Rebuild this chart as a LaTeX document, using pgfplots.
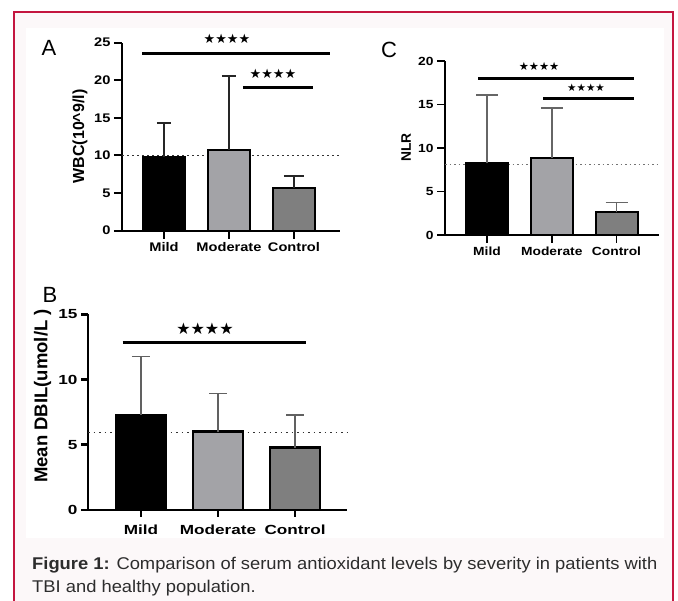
\documentclass[border=0pt]{standalone}
\usepackage{pgfplots}
\pgfplotsset{compat=1.18}
\usepackage{fontspec}
\setmainfont{Liberation Sans}
\newfontfamily\tfA[FakeStretch=1.17]{Liberation Sans}
\newfontfamily\tfB[FakeStretch=1.3]{Liberation Sans}
\newfontfamily\capfont[FakeStretch=1.08]{Liberation Sans}
\newfontfamily\starfont{DejaVu Sans}
\definecolor{border}{RGB}{196,22,64}
\definecolor{capbg}{RGB}{252,248,249}
\definecolor{modgray}{RGB}{163,163,167}
\definecolor{congray}{RGB}{127,127,127}
\definecolor{captext}{RGB}{45,45,45}
\pgfplotsset{
  gp/.style={
    scale only axis,
    axis x line=bottom, axis y line=left,
    axis line style={-},
    tick align=outside,
    ymin=0,
    xtick={0,1,2}, xticklabels={Mild,Moderate,Control},
    clip=false,
    /pgf/number format/assume math mode=true,
    major tick length=8pt,
    tick style={black},
    anchor=south west,
  },
  eb/.style n args={3}{error bars/.cd, y dir=plus, y explicit,
    error mark=|,
    error bar style={line width=#1, #3},
    error mark options={line width=#1, mark size=#2, #3}},
}
\begin{document}
\begin{tikzpicture}[x=1pt,y=1pt]
\useasboundingbox (0,0) rectangle (678,601);
\fill[white] (0,0) rectangle (678,601);
\fill[capbg] (14,-5) rectangle (673,589);
\draw[border, line width=2pt] (14,-5) -- (14,589) -- (673,589) -- (673,-5);
\fill[white] (26,63) rectangle (664,573);

% ---------- Panel A ----------
\begin{axis}[gp, at={(122pt,370.3pt)}, width=218pt, height=188pt,
  xmin=-0.646, xmax=2.708, ymax=25, ytick={0,5,10,15,20,25},
  axis line style={line width=2pt}, tick style={line width=2pt},
  tick label style={font=\tfA\bfseries\fontsize{12.5}{12.5}\selectfont}]
\addplot[black!80, line width=1.5pt, dash pattern=on 1.5pt off 3.5pt] coordinates {(-0.646,10) (2.708,10)};
\addplot[ybar, bar shift=0pt, bar width=42pt, fill=black, draw=black, line width=2.2pt,
  eb={1.6pt}{7pt}{black!85}]
  coordinates {(0,9.85) +- (0,4.45)};
\addplot[ybar, bar shift=0pt, bar width=42pt, fill=modgray, draw=black, line width=2.2pt,
  eb={1.6pt}{7pt}{black!85}]
  coordinates {(1,10.73) +- (0,9.84)};
\addplot[ybar, bar shift=0pt, bar width=42pt, fill=congray, draw=black, line width=2.2pt,
  eb={1.6pt}{10pt}{black!85}]
  coordinates {(2,5.64) +- (0,1.63)};
\addplot[black, line width=2.8pt] coordinates {(-0.338,23.6) (2.554,23.6)};
\addplot[black, line width=2.8pt] coordinates {(1.215,19.0) (2.292,19.0)};
\node[font=\starfont\fontsize{13}{13}\selectfont] at (axis cs:0.969,25.5) {★★★★};
\node[font=\starfont\fontsize{13}{13}\selectfont] at (axis cs:1.677,20.8) {★★★★};
\end{axis}

% ---------- Panel C ----------
\begin{axis}[gp, at={(445pt,366pt)}, width=214pt, height=174pt,
  xmin=-0.649, xmax=2.656, ymax=20, ytick={0,5,10,15,20},
  axis line style={line width=1.6pt}, tick style={line width=1.6pt},
  tick label style={font=\tfA\bfseries\fontsize{11.8}{11.8}\selectfont}]
\addplot[black!55, line width=1.5pt, dash pattern=on 1.5pt off 3pt] coordinates {(-0.649,8.1) (2.656,8.1)};
\addplot[ybar, bar shift=0pt, bar width=42pt, fill=black, draw=black, line width=2pt,
  eb={1.5pt}{11pt}{black!60}]
  coordinates {(0,8.24) +- (0,7.86)};
\addplot[ybar, bar shift=0pt, bar width=42pt, fill=modgray, draw=black, line width=2pt,
  eb={1.5pt}{11pt}{black!60}]
  coordinates {(1,8.85) +- (0,5.75)};
\addplot[ybar, bar shift=0pt, bar width=42pt, fill=congray, draw=black, line width=2pt,
  eb={1.5pt}{11pt}{black!60}]
  coordinates {(2,2.6) +- (0,1.16)};
\addplot[black, line width=2.5pt] coordinates {(-0.139,18.0) (2.27,18.0)};
\addplot[black, line width=2.5pt] coordinates {(0.865,15.7) (2.27,15.7)};
\node[font=\starfont\fontsize{11.3}{11.3}\selectfont] at (axis cs:0.803,19.4) {★★★★};
\node[font=\starfont\fontsize{10.5}{10.5}\selectfont] at (axis cs:1.529,16.9) {★★★★};
\end{axis}

% ---------- Panel B ----------
\begin{axis}[gp, at={(88pt,91pt)}, width=259pt, height=195.7pt,
  xmin=-0.688, xmax=2.675, ymax=15, ytick={0,5,10,15},
  major tick length=7pt,
  axis line style={line width=2.8pt}, tick style={line width=2.8pt},
  xticklabel style={yshift=-4pt},
  tick label style={font=\tfB\bfseries\fontsize{13.2}{13.2}\selectfont}]
\addplot[black!80, line width=1.5pt, dash pattern=on 1.5pt off 4pt] coordinates {(-0.688,5.95) (2.675,5.95)};
\addplot[ybar, bar shift=0pt, bar width=50pt, fill=black, draw=black, line width=2.8pt,
  eb={1.6pt}{9pt}{black!62}]
  coordinates {(0,7.28) +- (0,4.47)};
\addplot[ybar, bar shift=0pt, bar width=50pt, fill=modgray, draw=black, line width=2.8pt,
  eb={1.6pt}{9pt}{black!62}]
  coordinates {(1,6.0) +- (0,2.94)};
\addplot[ybar, bar shift=0pt, bar width=50pt, fill=congray, draw=black, line width=2.8pt,
  eb={1.6pt}{9pt}{black!62}]
  coordinates {(2,4.78) +- (0,2.5)};
\addplot[black, line width=3pt] coordinates {(-0.238,12.87) (2.143,12.87)};
\node[font=\starfont\fontsize{16}{16}\selectfont] at (axis cs:0.831,13.92) {★★★★};
\end{axis}

% ---------- labels ----------
\node[rotate=90, font=\bfseries\fontsize{16}{16}\selectfont] at (80,464.5) {WBC(10\textasciicircum 9/l)};
\node[rotate=90, font=\bfseries\fontsize{13.8}{13.8}\selectfont] at (406,453.5) {NLR};
\node[rotate=90, font=\bfseries\fontsize{18.5}{18.5}\selectfont] at (42.5,205) {Mean DBIL(umol/L )};
\node[font=\fontsize{22}{22}\selectfont] at (49,553) {A};
\node[font=\fontsize{22}{22}\selectfont] at (389,551) {C};
\node[font=\fontsize{22}{22}\selectfont] at (50,306) {B};

% ---------- caption ----------
\node[anchor=base west, inner sep=0pt, text=captext, font=\capfont\fontsize{17}{17}\selectfont] at (32,31) {\textbf{Figure 1:} Comparison of serum antioxidant levels by severity in patients with};
\node[anchor=base west, inner sep=0pt, text=captext, font=\capfont\fontsize{17}{17}\selectfont] at (32,8) {TBI and healthy population.};
\end{tikzpicture}
\end{document}
